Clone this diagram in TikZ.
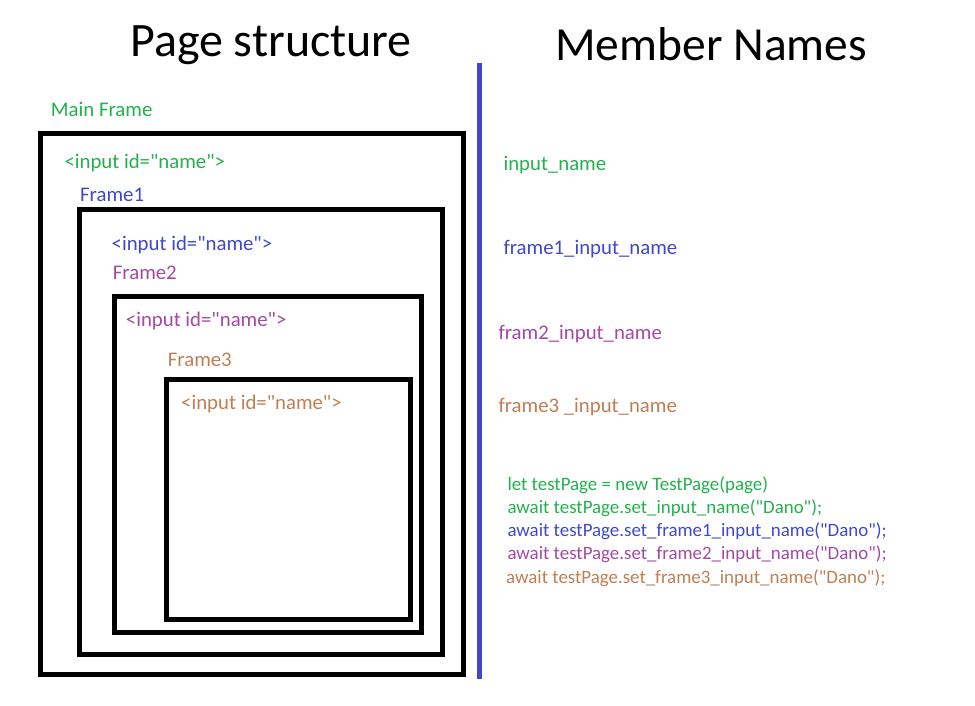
\documentclass[tikz,border=0pt]{standalone}
\usepackage{fontspec}
\setmainfont{Carlito}[Ligatures=TeXOff]
\definecolor{cgreen}{HTML}{22B14C}
\definecolor{cblue}{HTML}{3F48CC}
\definecolor{cpurple}{HTML}{A349A4}
\definecolor{ctan}{HTML}{C07E52}
\tikzset{
  frame/.style={draw=black, line width=5pt},
  title/.style={anchor=base west, inner sep=0pt, font=\fontsize{48}{52}\selectfont},
  lbl/.style={anchor=base west, inner sep=0pt, font=\fontsize{20.8}{24}\selectfont},
  code/.style={anchor=base west, inner sep=0pt, font=\fontsize{18.9}{22}\selectfont},
}
\begin{document}
\begin{tikzpicture}[x=1pt,y=-1pt]
\useasboundingbox (0,0) rectangle (975,706);
% titles
\node[title] (t1) at (130,57) {Page structure};
\node[title, font=\fontsize{47.5}{52}\selectfont] (t2) at (555,61) {Member Names};
% divider
\draw[cblue, line width=5.3pt] (479.3,63) -- (479.3,678.7);
% frames
\draw[frame] (40.5,134) rectangle (463,674.5);
\draw[frame] (79,209) rectangle (442,654);
\draw[frame] (114,296) rectangle (421,632);
\draw[frame] (166.7,379) rectangle (410,619);
% left labels
\node[lbl, text=cgreen] (mf) at (50.7,116.7) {Main Frame};
\node[lbl, text=cgreen] (i0) at (64.3,168.3) {<input id="name">};
\node[lbl, text=cblue] (f1) at (80,201) {Frame1};
\node[lbl, text=cblue] (i1) at (111.5,250) {<input id="name">};
\node[lbl, text=cpurple] (f2) at (112.7,279.3) {Frame2};
\node[lbl, text=cpurple] (i2) at (125.7,326) {<input id="name">};
\node[lbl, text=ctan] (f3) at (167.7,366.7) {Frame3};
\node[lbl, text=ctan] (i3) at (181,409) {<input id="name">};
% right labels
\node[lbl, text=cgreen] (m0) at (503.3,171) {input\_name};
\node[lbl, text=cblue] (m1) at (503.3,254.3) {frame1\_input\_name};
\node[lbl, text=cpurple] (m2) at (498.3,339.3) {fram2\_input\_name};
\node[lbl, text=ctan] (m3) at (498.3,412.7) {frame3 \_input\_name};
% code
\node[code, text=cgreen] (c0) at (507.3,490.7) {let testPage = new TestPage(page)};
\node[code, text=cgreen] (c1) at (507.3,513.3) {await testPage.set\_input\_name("Dano");};
\node[code, text=cblue] (c2) at (507.3,536.7) {await testPage.set\_frame1\_input\_name("Dano");};
\node[code, text=cpurple] (c3) at (507.3,559.3) {await testPage.set\_frame2\_input\_name("Dano");};
\node[code, text=ctan] (c4) at (506,583.3) {await testPage.set\_frame3\_input\_name("Dano");};
\end{tikzpicture}
\end{document}
